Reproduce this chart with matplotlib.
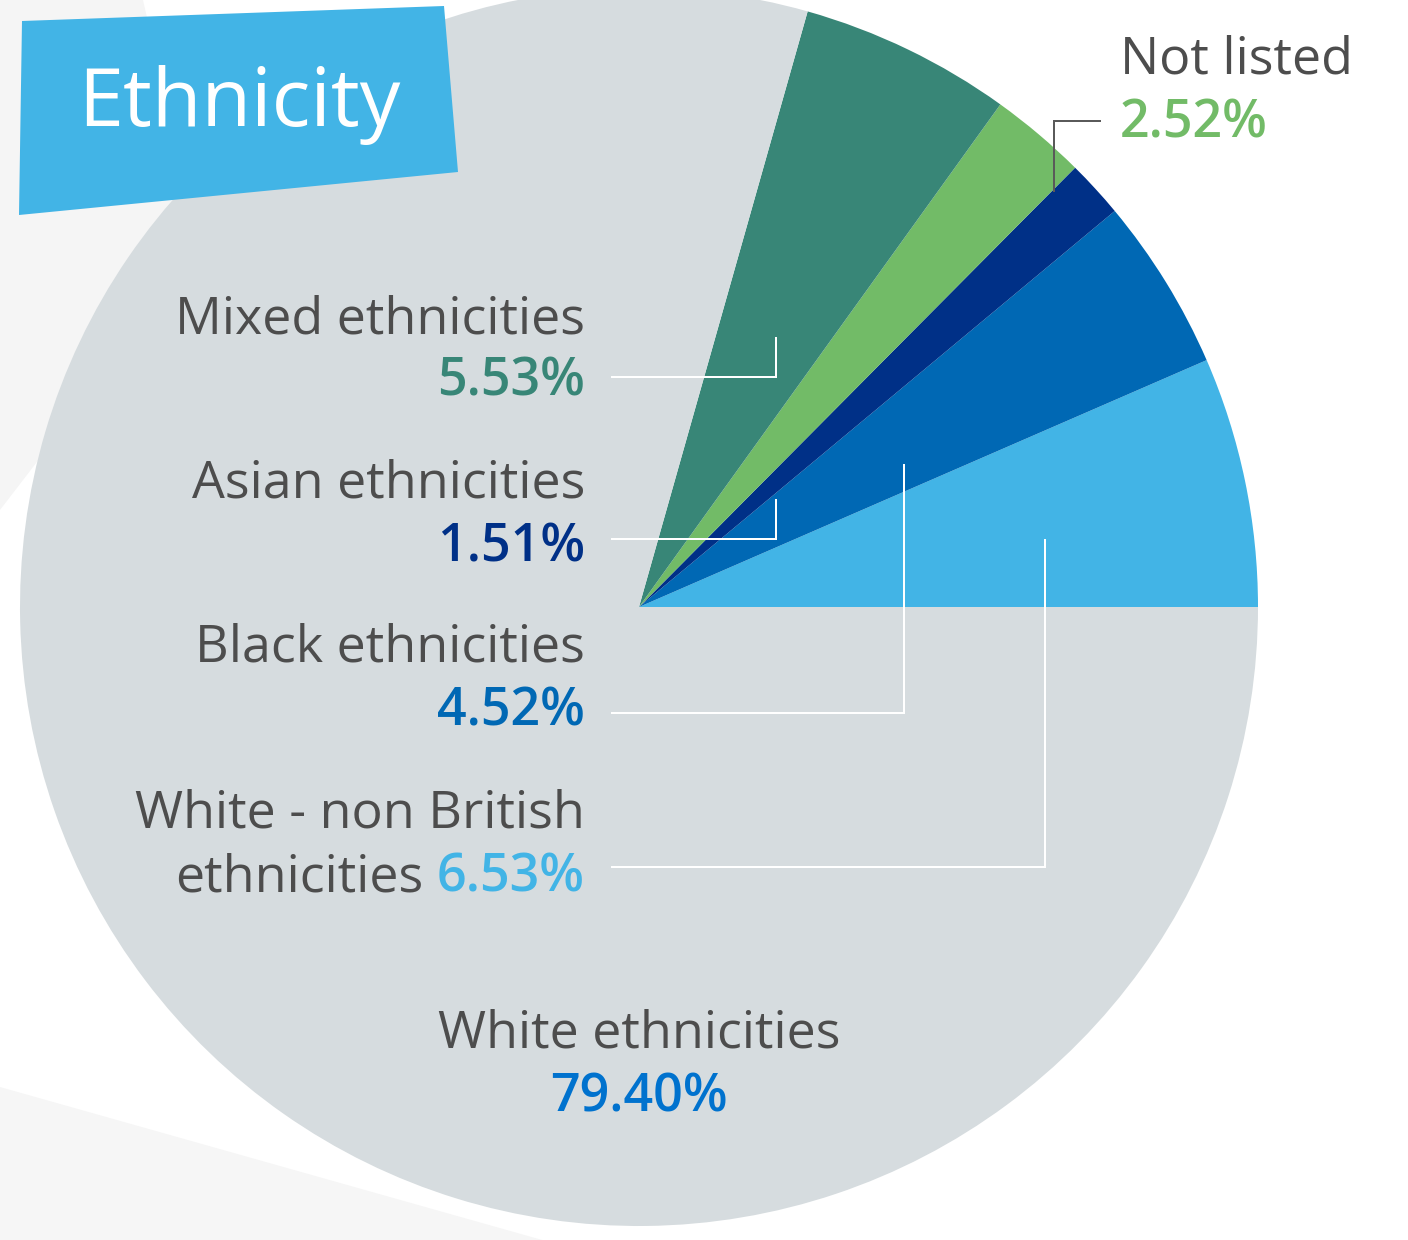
import matplotlib.pyplot as plt
from matplotlib.patches import Polygon

# canvas size in pixels (dpi 100)
W, H = 1408, 1240
PT = 0.72  # px -> pt at dpi 100

# data, counter-clockwise from 3 o'clock
groups = ['White - non British\nethnicities', 'Black ethnicities', 'Asian ethnicities',
          'Not listed', 'Mixed ethnicities', 'White ethnicities']
shares = [6.53, 4.52, 1.51, 2.52, 5.53, 79.40]
slice_colors = ['#42b4e6', '#0068b4', '#003087', '#72bb67', '#388677', '#d6dcdf']
pct_colors = ['#42b4e6', '#0068b4', '#003087', '#72bb67', '#388677', '#0072ce']
title = 'Ethnicity'

FONT = 'Open Sans'
GREY_TXT = '#4d4d4d'

fig = plt.figure(figsize=(W / 100, H / 100), dpi=100)
ax = fig.add_axes([0, 0, 1, 1])

# faint background shapes
ax.add_patch(Polygon([(0, 0), (143, 0), (200, 250), (0, 510)], closed=True,
                     facecolor='#f5f5f5', edgecolor='none', zorder=0))
ax.add_patch(Polygon([(0, 1087), (560, 1245), (0, 1245)], closed=True,
                     facecolor='#f6f6f6', edgecolor='none', zorder=0))

# pie (y axis is flipped, so counterclock=False reads counter-clockwise)
ax.pie(shares, colors=slice_colors, startangle=0, counterclock=False,
       center=(639, 607), radius=619, frame=True,
       wedgeprops=dict(linewidth=0, antialiased=True))

ax.set_xlim(0, W)
ax.set_ylim(H, 0)
ax.set_aspect('equal')
ax.axis('off')

# title tag
ax.add_patch(Polygon([(22, 21), (444, 6), (458, 172), (19, 215)], closed=True,
                     facecolor='#42b4e6', edgecolor='none', zorder=3))
ax.text(239, 126, title, ha='center', va='baseline', color='white',
        fontsize=81 * PT, family=FONT, zorder=4)

LBL = 52 * PT

def label(x, y_name, y_pct, name, pct, color, ha='right'):
    ax.text(x, y_name, name, ha=ha, va='baseline', color=GREY_TXT,
            fontsize=LBL, family=FONT, zorder=4)
    ax.text(x, y_pct, pct, ha=ha, va='baseline', color=color,
            fontsize=LBL, family=FONT, fontweight='semibold', zorder=4)

fmt = lambda v: f'{v:.2f}%'

label(585, 333, 396, groups[4], fmt(shares[4]), pct_colors[4])
label(585, 497, 561, groups[2], fmt(shares[2]), pct_colors[2])
label(585, 662, 726, groups[1], fmt(shares[1]), pct_colors[1])
label(1120, 74, 137, groups[3], fmt(shares[3]), pct_colors[3], ha='left')
label(639, 1047, 1111, groups[5], fmt(shares[5]), pct_colors[5], ha='center')

# two-line label with mixed colours
first, second = groups[0].split('\n')
ax.text(585, 827, first, ha='right', va='baseline', color=GREY_TXT,
        fontsize=LBL, family=FONT, zorder=4)
p = ax.text(585, 891, fmt(shares[0]), ha='right', va='baseline', color=pct_colors[0],
            fontsize=LBL, family=FONT, fontweight='semibold', zorder=4)
fig.canvas.draw()
bb = p.get_window_extent(fig.canvas.get_renderer())
x_left = ax.transData.inverted().transform((bb.x0, bb.y0))[0]
ax.text(x_left - 14, 891, second, ha='right', va='baseline', color=GREY_TXT,
        fontsize=LBL, family=FONT, zorder=4)

# leader lines
lw = 2 * PT
for xs, ys in [([612, 776, 776], [377, 377, 338]),
               ([612, 776, 776], [539, 539, 500]),
               ([612, 904, 904], [713, 713, 465]),
               ([612, 1045, 1045], [867, 867, 540])]:
    ax.plot(xs, ys, color='white', lw=lw, solid_joinstyle='miter', zorder=3)
ax.plot([1100, 1054, 1054], [121, 121, 191], color='#5a5a5a', lw=lw,
        solid_joinstyle='miter', zorder=3)

fig.savefig('out.png', dpi=100, facecolor='white')
